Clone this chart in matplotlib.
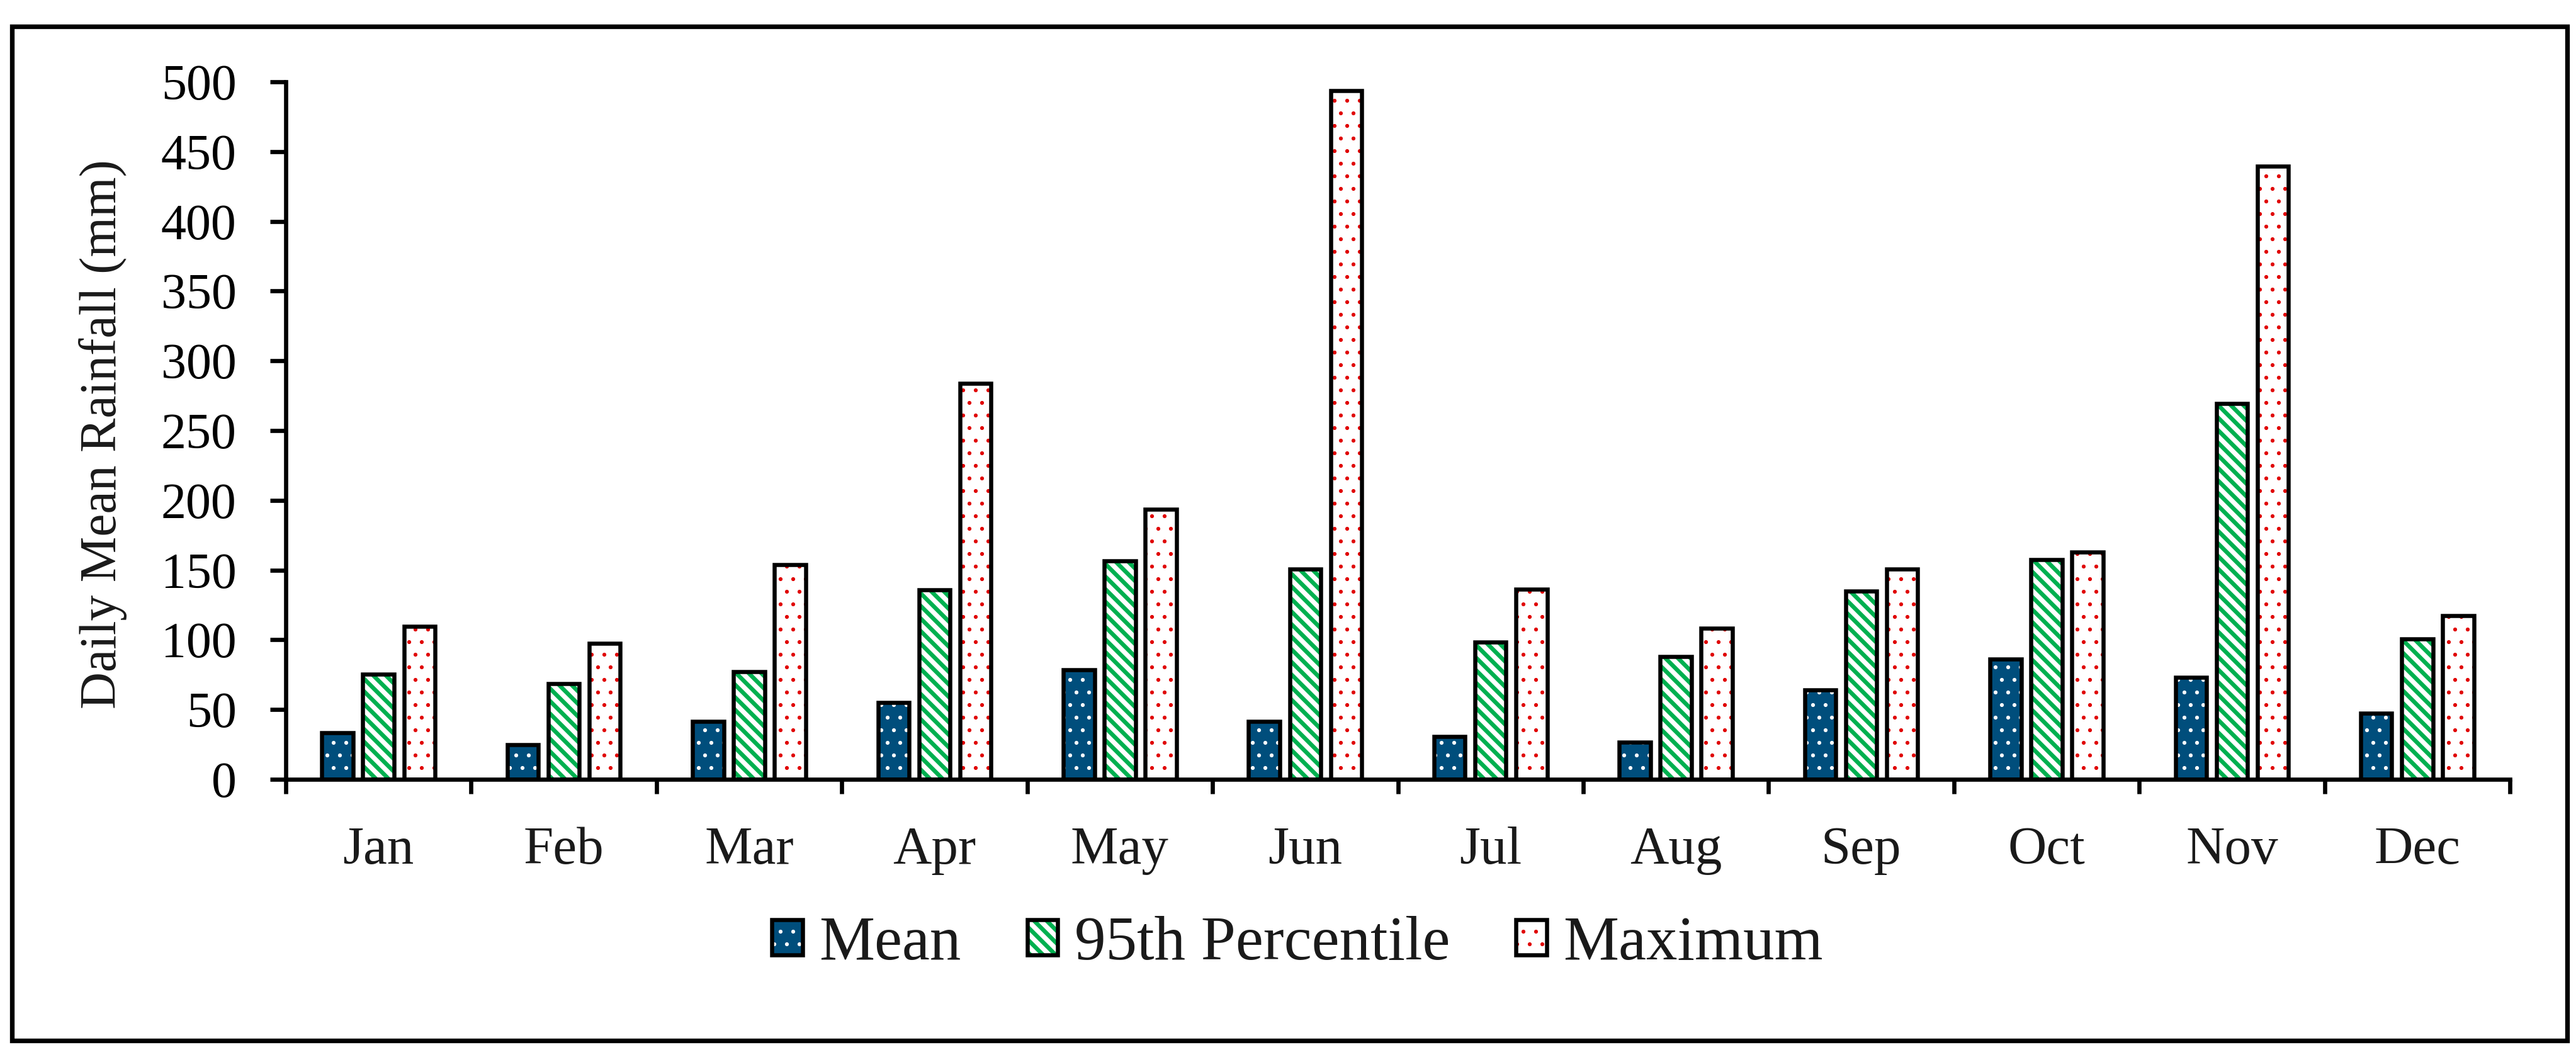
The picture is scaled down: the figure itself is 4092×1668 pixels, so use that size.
import matplotlib
matplotlib.use("Agg")
import matplotlib as mpl
import matplotlib.pyplot as plt
from matplotlib.patches import Rectangle, Patch
import numpy as np

months = ["Jan", "Feb", "Mar", "Apr", "May", "Jun", "Jul", "Aug", "Sep", "Oct", "Nov", "Dec"]
mean_vals = [33.5, 25, 41.5, 55, 78.5, 41.5, 30.5, 26.5, 64, 86, 73, 47.5]
p95_vals = [75.5, 68.5, 77, 136, 156.5, 150.5, 98.5, 88, 135, 157.5, 269.5, 100.5]
max_vals = [109.5, 97.5, 154, 284, 193.5, 493.5, 136.5, 108.5, 150.5, 163, 439.5, 117.5]
series_names = ["Mean", "95th Percentile", "Maximum"]
yticks = list(range(0, 501, 50))

DPI = 120
W, H = 4092, 1668
plt.rcParams['font.family'] = ['Liberation Serif', 'DejaVu Serif']
plt.rcParams['hatch.linewidth'] = 1.0

fig = plt.figure(figsize=(W / DPI, H / DPI), dpi=DPI)
fig.patch.set_facecolor('white')

ax_l, ax_r, ax_b, ax_t = 454, 3987, 1238, 130
ax = fig.add_axes([ax_l / W, 1 - ax_b / H, (ax_r - ax_l) / W, (ax_b - ax_t) / H])

x = np.arange(len(months))
offset = 0.221
bw = 0.168
edge_lw = 3.9

styles = [
    dict(face='#004E7C', hatchc='white', hatch='.', hlw=1.3),
    dict(face='white', hatchc='#00B050', hatch='\\\\', hlw=4.0),
    dict(face='white', hatchc='#E00000', hatch='.', hlw=1.3),
]


def set_hlw(patches, lw):
    for p in patches:
        if hasattr(p, 'set_hatch_linewidth'):
            try:
                p.set_hatch_linewidth(lw)
            except Exception:
                pass
        orig = p.draw

        def draw(renderer, orig=orig, lw=lw):
            with mpl.rc_context({'hatch.linewidth': lw}):
                orig(renderer)
        p.draw = draw


data = [mean_vals, p95_vals, max_vals]
for i, (vals, st) in enumerate(zip(data, styles)):
    pos = x + (i - 1) * offset
    with mpl.rc_context({'hatch.linewidth': st['hlw']}):
        bars = ax.bar(pos, vals, width=bw, color=st['face'], edgecolor=st['hatchc'],
                      linewidth=0, hatch=st['hatch'], zorder=2)
    set_hlw(bars.patches, st['hlw'])
    ax.bar(pos, vals, width=bw, fill=False, edgecolor='black', linewidth=edge_lw,
           zorder=3, joinstyle='miter')

ax.set_xlim(-0.5, len(months) - 0.5)
ax.set_ylim(0, 500)
ax.set_yticks(yticks)
ax.set_xticks(x)
ax.set_xticklabels(months)
ax.set_xticks(np.arange(-0.5, len(months), 1.0), minor=True)

for s in ['top', 'right']:
    ax.spines[s].set_visible(False)
for s in ['left', 'bottom']:
    ax.spines[s].set_linewidth(4.0)
    ax.spines[s].set_color('black')
    ax.spines[s].set_zorder(4)

ax.tick_params(axis='y', which='major', direction='out', length=15, width=4.0,
               labelsize=48, pad=32, colors='black')
ax.tick_params(axis='x', which='major', length=0, labelsize=51, pad=45,
               labelcolor='#1a1a1a')
ax.tick_params(axis='x', which='minor', direction='out', length=14, width=4.0)

fig.text(164 / W, 1 - 690 / H, 'Daily Mean Rainfall (mm)', rotation=90,
         ha='center', va='center', fontsize=49, color='#1a1a1a')

handles = []
for st in styles:
    handles.append(Patch(facecolor=st['face'], edgecolor=st['hatchc'], hatch=st['hatch'],
                         linewidth=0))
leg = fig.legend(handles, series_names, loc='center',
                 bbox_to_anchor=(2061 / W, 1 - 1500 / H), ncol=3, frameon=False,
                 fontsize=59.4, handlelength=0.49, handleheight=0.49,
                 handletextpad=0.27, columnspacing=1.06, borderpad=0, borderaxespad=0)
for t in leg.get_texts():
    t.set_color('#1a1a1a')
for hp, st in zip(leg.legend_handles, styles):
    set_hlw([hp], st['hlw'])
    hp.set_linewidth(0)
fig.canvas.draw()
for hp in leg.legend_handles:
    bb = hp.get_window_extent(fig.canvas.get_renderer())
    r = Rectangle((bb.x0, bb.y0), bb.width, bb.height, fill=False, edgecolor='black',
                  linewidth=edge_lw, transform=None, zorder=10)
    fig.add_artist(r)

border = Rectangle((19 / W, 1 - 1653 / H), (4078 - 19) / W, (1653 - 42) / H,
                   transform=fig.transFigure, fill=False, edgecolor='black',
                   linewidth=4.4, zorder=0)
fig.add_artist(border)

fig.savefig('out.png', dpi=DPI, facecolor='white')
